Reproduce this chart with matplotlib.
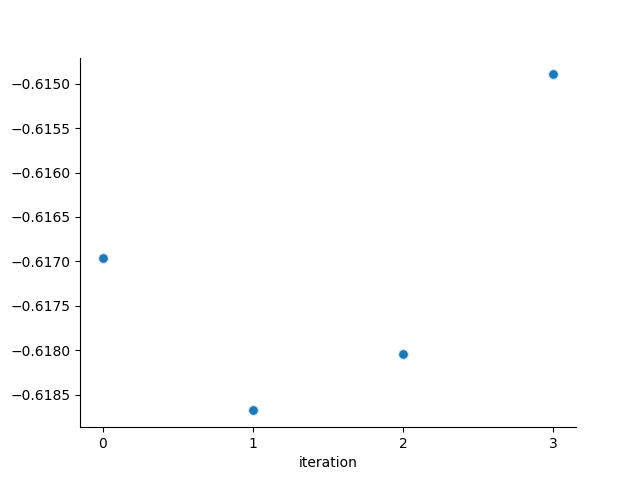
import matplotlib
matplotlib.use("Agg")
import matplotlib.pyplot as plt

iteration = [0, 1, 2, 3]
value = [-0.616966, -0.618677, -0.618046, -0.614895]

fig, ax = plt.subplots(figsize=(6.4, 4.8), dpi=100)

ax.scatter(iteration, value, s=50, color='#1f77b4', edgecolors='#d6e6f4', linewidths=0.8)

ax.set_xticks(iteration)
ax.set_xlabel('iteration')
ax.yaxis.set_major_formatter(
    matplotlib.ticker.FuncFormatter(lambda v, p: ('%.4f' % v).replace('-', '\u2212')))

# only left and bottom spines
ax.spines['top'].set_visible(False)
ax.spines['right'].set_visible(False)

plt.savefig("out.png")
